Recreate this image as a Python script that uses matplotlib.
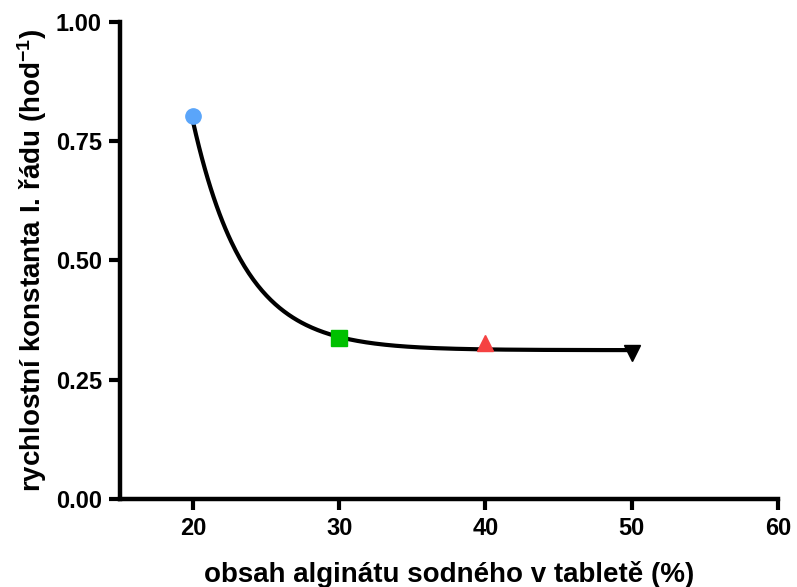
import numpy as np
import matplotlib
matplotlib.use("Agg")
import matplotlib.pyplot as plt

plt.rcParams['font.family'] = ['Liberation Sans', 'DejaVu Sans']
plt.rcParams['font.weight'] = 'bold'
plt.rcParams['mathtext.fontset'] = 'custom'
plt.rcParams['mathtext.bf'] = 'Liberation Sans:bold'
plt.rcParams['mathtext.rm'] = 'Liberation Sans:bold'
plt.rcParams['mathtext.default'] = 'bf'

# Data
alginate = [20, 30, 40, 50]
rate_const = [0.803, 0.337, 0.328, 0.306]
markers = ['o', 's', '^', 'v']
colors = ['#5aa5fa', '#00c000', '#f54242', '#000000']

# one-phase exponential decay fit
plateau = 0.312
span = 0.478
k = 0.285

fig = plt.figure(figsize=(7.97, 5.87), dpi=100)
ax = fig.add_axes([0.1506, 0.150, 0.8254, 0.8125])

xs = np.linspace(20, 50, 300)
ax.plot(xs, plateau + span * np.exp(-k * (xs - 20)), color='black', lw=3, zorder=2)

for x, y, m, c in zip(alginate, rate_const, markers, colors):
    ax.plot(x, y, marker=m, color=c, markersize=11, linestyle='none', zorder=3)

ax.set_xlim(15, 60)
ax.set_ylim(0, 1)
ax.set_xticks([20, 30, 40, 50, 60])
ax.set_yticks([0, 0.25, 0.5, 0.75, 1.0])
ax.set_yticklabels(['0.00', '0.25', '0.50', '0.75', '1.00'])

for side in ['top', 'right']:
    ax.spines[side].set_visible(False)
for side in ['left', 'bottom']:
    ax.spines[side].set_linewidth(3.2)
ax.tick_params(width=3, length=8, labelsize=17, pad=5)

ax.set_xlabel('obsah alginátu sodného v tabletě (%)', fontsize=20, fontweight='bold', labelpad=15)
ax.set_ylabel('rychlostní konstanta I. řádu (hod$^{-1}$)', fontsize=20, fontweight='bold', labelpad=5)

fig.savefig('out.png', dpi=100)
